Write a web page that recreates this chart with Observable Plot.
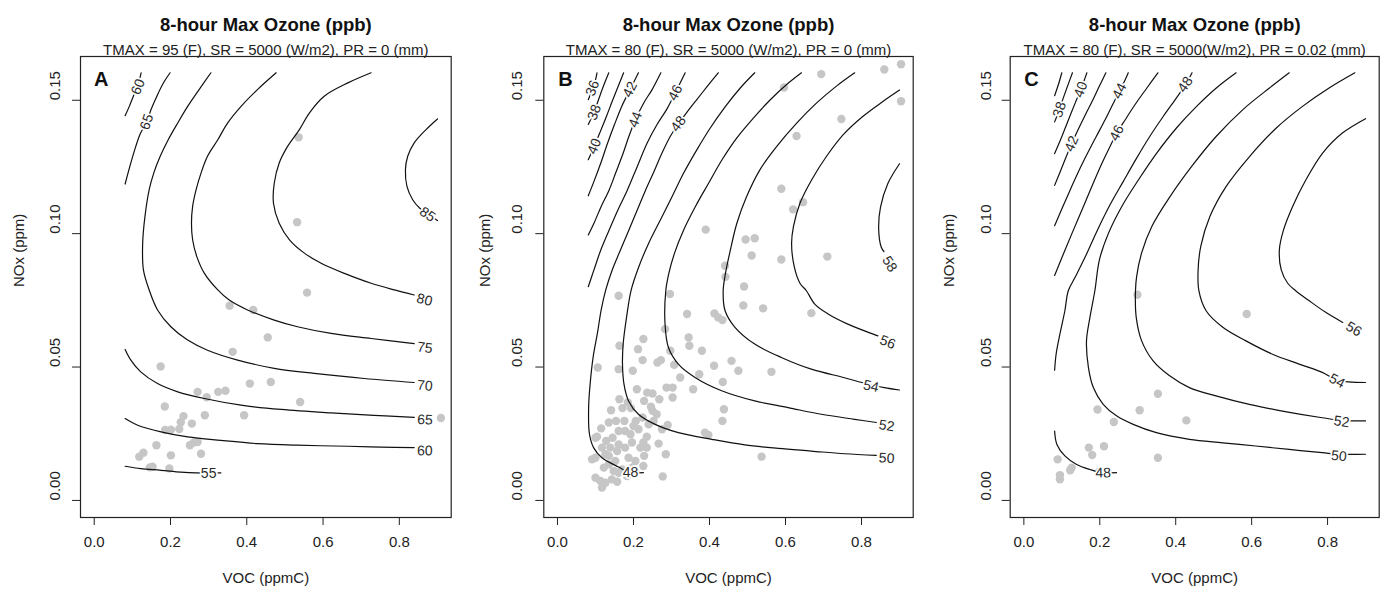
<!DOCTYPE html>
<html><head><meta charset="utf-8">
<script src="https://cdn.jsdelivr.net/npm/d3@7"></script>
<script src="https://cdn.jsdelivr.net/npm/@observablehq/plot@0.6"></script>
<style>
body{margin:0;background:#fff;}
#wrap{position:relative;width:1384px;height:589px;overflow:hidden;background:#fff;}
#wrap svg{position:absolute;top:0;}
</style></head><body><div id="wrap"></div>
<script>
// ---------- texts & ticks ----------
const mainTitle = "8-hour Max Ozone (ppb)";
const subtitles = [
  "TMAX = 95 (F), SR = 5000 (W/m2), PR = 0 (mm)",
  "TMAX = 80 (F), SR = 5000 (W/m2), PR = 0 (mm)",
  "TMAX = 80 (F), SR = 5000(W/m2), PR = 0.02 (mm)"
];
const panelLetters = ["A", "B", "C"];
const xLabel = "VOC (ppmC)";
const yLabel = "NOx (ppm)";
const xTicks = [0, 0.2, 0.4, 0.6, 0.8];
const yTicks = [0, 0.05, 0.10, 0.15];

// ---------- Panel A ----------
const contoursA = [
  {level: 60, pts: [[0.081,0.1442],[0.092,0.1477],[0.103,0.1517],[0.114,0.1555],[0.123,0.1603]]},
  {level: 65, pts: [[0.081,0.1186],[0.096,0.1265],[0.109,0.1327],[0.121,0.1375],[0.138,0.1419],[0.149,0.1465],[0.166,0.1521],[0.184,0.1571],[0.199,0.1603]]},
  {level: 70, pts: [[0.306,0.1603],[0.275,0.154],[0.245,0.1477],[0.219,0.1415],[0.194,0.1352],[0.173,0.129],[0.156,0.1227],[0.144,0.1164],[0.133,0.1064],[0.127,0.0964],[0.129,0.0864],[0.144,0.0789],[0.166,0.0714],[0.201,0.0651],[0.245,0.0601],[0.297,0.0563],[0.376,0.0526],[0.472,0.0495],[0.577,0.0476],[0.708,0.0457],[0.839,0.0442]]},
  {level: 75, pts: [[0.477,0.1603],[0.428,0.154],[0.385,0.1477],[0.35,0.1415],[0.324,0.1352],[0.297,0.129],[0.28,0.1227],[0.267,0.1164],[0.258,0.1102],[0.255,0.1039],[0.258,0.0977],[0.269,0.0914],[0.289,0.0851],[0.324,0.0789],[0.354,0.0751],[0.402,0.0714],[0.472,0.0676],[0.533,0.0651],[0.621,0.0626],[0.726,0.0607],[0.839,0.0588]]},
  {level: 80, pts: [[0.726,0.1603],[0.665,0.1565],[0.603,0.1515],[0.564,0.1452],[0.538,0.139],[0.507,0.1327],[0.485,0.1265],[0.472,0.1189],[0.47,0.1114],[0.485,0.1039],[0.512,0.0977],[0.551,0.0927],[0.595,0.0889],[0.656,0.0851],[0.726,0.0814],[0.787,0.0789],[0.839,0.077]]},
  {level: 85, pts: [[0.9,0.143],[0.87,0.139],[0.839,0.134],[0.822,0.129],[0.816,0.124],[0.82,0.1177],[0.835,0.1127],[0.853,0.1096],[0.9,0.1049]]},
  {level: 65, pts: [[0.081,0.0566],[0.096,0.0526],[0.122,0.0482],[0.166,0.0438],[0.219,0.0407],[0.289,0.0382],[0.385,0.0357],[0.49,0.0341],[0.621,0.0328],[0.734,0.0319],[0.839,0.0311]]},
  {level: 60, pts: [[0.081,0.0307],[0.114,0.0282],[0.175,0.0257],[0.245,0.0238],[0.332,0.0225],[0.428,0.0213],[0.533,0.0207],[0.665,0.0203],[0.752,0.02],[0.839,0.0198]]},
  {level: 55, pts: [[0.081,0.0128],[0.122,0.0119],[0.175,0.0113],[0.227,0.0106],[0.267,0.0103],[0.332,0.0103]]}
];
const labelsA = [
  {level: 60, x: 0.115, y: 0.1550}, {level: 65, x: 0.138, y: 0.1419},
  {level: 70, x: 0.867, y: 0.0430}, {level: 75, x: 0.867, y: 0.0572},
  {level: 80, x: 0.866, y: 0.0752}, {level: 85, x: 0.874, y: 0.1072},
  {level: 65, x: 0.867, y: 0.0302}, {level: 60, x: 0.867, y: 0.0186},
  {level: 55, x: 0.300, y: 0.0099}
];
const pointsA = [[0.536,0.1361],[0.532,0.1043],[0.558,0.0779],[0.355,0.073],[0.417,0.0714],[0.455,0.0611],[0.363,0.0557],[0.174,0.0502],[0.408,0.0438],[0.463,0.0444],[0.271,0.0407],[0.295,0.0387],[0.325,0.0407],[0.344,0.0411],[0.54,0.0369],[0.185,0.0352],[0.234,0.0316],[0.29,0.0319],[0.393,0.0319],[0.227,0.0293],[0.256,0.0288],[0.186,0.0264],[0.201,0.0265],[0.223,0.0268],[0.909,0.0309],[0.163,0.0207],[0.251,0.0207],[0.261,0.0217],[0.271,0.0219],[0.28,0.0175],[0.118,0.0164],[0.129,0.0179],[0.201,0.0169],[0.153,0.0126],[0.146,0.0124],[0.197,0.012],[0.302,0.010]];

// ---------- Panel B ----------
const contoursB = [
  {level: 36, pts: [[0.081,0.1502],[0.09,0.1534],[0.098,0.1565],[0.104,0.1603]]},
  {level: 38, pts: [[0.081,0.1409],[0.093,0.1446],[0.105,0.149],[0.119,0.1546],[0.135,0.1603]]},
  {level: 40, pts: [[0.081,0.1277],[0.096,0.1325],[0.112,0.138],[0.129,0.144],[0.144,0.1496],[0.159,0.155],[0.174,0.1603]]},
  {level: 42, pts: [[0.081,0.1142],[0.096,0.1196],[0.114,0.1265],[0.132,0.134],[0.15,0.1409],[0.169,0.1477],[0.191,0.154],[0.213,0.1603]]},
  {level: 44, pts: [[0.081,0.0995],[0.096,0.1039],[0.115,0.1102],[0.136,0.1164],[0.153,0.1227],[0.173,0.1302],[0.188,0.1365],[0.205,0.1427],[0.227,0.149],[0.249,0.154],[0.272,0.1603]]},
  {level: 46, pts: [[0.081,0.0801],[0.096,0.0864],[0.114,0.0939],[0.136,0.1014],[0.159,0.1089],[0.184,0.1164],[0.21,0.1252],[0.236,0.134],[0.262,0.1409],[0.287,0.1465],[0.31,0.1528],[0.336,0.1603]]},
  {level: 48, pts: [[0.423,0.1603],[0.393,0.155],[0.363,0.1496],[0.339,0.1452],[0.318,0.1412],[0.297,0.1365],[0.275,0.1302],[0.254,0.1233],[0.232,0.1164],[0.21,0.1089],[0.188,0.1014],[0.164,0.0933],[0.144,0.0864],[0.127,0.0789],[0.115,0.0714],[0.105,0.0626],[0.094,0.0539],[0.086,0.0438],[0.082,0.0351],[0.084,0.025],[0.095,0.0198],[0.117,0.016],[0.161,0.0125],[0.192,0.0104],[0.226,0.0104]]},
  {level: 50, pts: [[0.519,0.1603],[0.481,0.1546],[0.442,0.1477],[0.402,0.1396],[0.367,0.1315],[0.332,0.1227],[0.302,0.114],[0.271,0.1052],[0.24,0.0964],[0.214,0.0876],[0.194,0.0789],[0.182,0.0689],[0.173,0.0589],[0.171,0.0513],[0.175,0.0436],[0.187,0.0373],[0.213,0.0323],[0.257,0.0285],[0.318,0.0254],[0.406,0.0229],[0.493,0.0208],[0.581,0.0195],[0.668,0.0185],[0.755,0.0175],[0.839,0.0169]]},
  {level: 52, pts: [[0.642,0.1603],[0.603,0.1559],[0.56,0.1502],[0.516,0.1434],[0.472,0.1359],[0.433,0.1277],[0.398,0.119],[0.363,0.1102],[0.332,0.1014],[0.308,0.0927],[0.293,0.0851],[0.285,0.0786],[0.283,0.0661],[0.292,0.0573],[0.318,0.0511],[0.362,0.0461],[0.432,0.0411],[0.519,0.0373],[0.607,0.0348],[0.694,0.0323],[0.782,0.0304],[0.839,0.0292]]},
  {level: 54, pts: [[0.782,0.1603],[0.734,0.1553],[0.682,0.149],[0.63,0.1415],[0.577,0.1327],[0.533,0.124],[0.498,0.114],[0.472,0.1039],[0.455,0.0939],[0.442,0.0851],[0.436,0.0786],[0.441,0.0711],[0.467,0.0649],[0.519,0.0586],[0.589,0.0536],[0.668,0.0492],[0.755,0.046],[0.804,0.0441],[0.86,0.0423],[0.9,0.0414]]},
  {level: 56, pts: [[0.9,0.1538],[0.857,0.1496],[0.804,0.144],[0.752,0.1371],[0.708,0.129],[0.669,0.1202],[0.638,0.1114],[0.621,0.1027],[0.616,0.0964],[0.623,0.0876],[0.638,0.0814],[0.655,0.0786],[0.677,0.0736],[0.712,0.0699],[0.764,0.0661],[0.843,0.0617]]},
  {level: 58, pts: [[0.9,0.1262],[0.869,0.1187],[0.85,0.1099],[0.845,0.1024],[0.852,0.0949],[0.859,0.0933]]}
];
const labelsB = [
  {level: 36, x: 0.092, y: 0.1545}, {level: 38, x: 0.097, y: 0.1455},
  {level: 40, x: 0.097, y: 0.1327}, {level: 42, x: 0.191, y: 0.154},
  {level: 44, x: 0.205, y: 0.1427}, {level: 46, x: 0.31, y: 0.1528},
  {level: 48, x: 0.318, y: 0.1412}, {level: 48, x: 0.192, y: 0.0104},
  {level: 50, x: 0.866, y: 0.0158}, {level: 52, x: 0.866, y: 0.0280},
  {level: 54, x: 0.825, y: 0.0428}, {level: 56, x: 0.869, y: 0.0593},
  {level: 58, x: 0.874, y: 0.0886}
];
const pointsB = [[0.904,0.1635],[0.86,0.1615],[0.694,0.1598],[0.596,0.1548],[0.904,0.1496],[0.747,0.143],[0.629,0.1366],[0.589,0.1168],[0.62,0.1091],[0.646,0.1118],[0.39,0.1015],[0.495,0.0978],[0.519,0.0983],[0.511,0.0918],[0.589,0.0903],[0.71,0.0914],[0.441,0.088],[0.442,0.0838],[0.491,0.0802],[0.161,0.0767],[0.296,0.0774],
[0.341,0.0699],[0.413,0.0701],[0.423,0.0686],[0.434,0.0676],[0.489,0.0731],[0.541,0.072],[0.668,0.0702],
[0.283,0.0642],[0.226,0.0605],[0.163,0.058],[0.212,0.0567],[0.345,0.0611],[0.347,0.058],[0.297,0.0561],[0.38,0.0561],
[0.224,0.0526],[0.272,0.0526],[0.263,0.0517],[0.307,0.0508],[0.412,0.0505],[0.458,0.0523],[0.476,0.0486],[0.563,0.0482],
[0.106,0.0498],[0.161,0.0492],[0.198,0.0486],[0.323,0.0461],[0.373,0.0473],[0.435,0.0444],
[0.209,0.0417],[0.236,0.0404],[0.25,0.0401],[0.287,0.0423],[0.303,0.0423],[0.357,0.0417],[0.303,0.0386],
[0.163,0.0379],[0.185,0.0367],[0.228,0.0373],[0.268,0.0379],[0.246,0.0351],[0.141,0.0338],[0.171,0.0346],[0.193,0.0346],[0.25,0.0336],[0.438,0.0342],[0.434,0.0298],
[0.224,0.0311],[0.206,0.0298],[0.154,0.0298],[0.176,0.0298],[0.135,0.0292],[0.115,0.027],[0.104,0.0239],[0.128,0.0223],[0.145,0.0235],[0.161,0.026],[0.2,0.0279],[0.213,0.0267],[0.235,0.0239],[0.275,0.0267],[0.29,0.0283],[0.266,0.0213],[0.388,0.0254],[0.397,0.0245],[0.285,0.0173],[0.537,0.0164],
[0.091,0.0154],[0.1,0.016],[0.135,0.0167],[0.157,0.0185],[0.187,0.016],[0.205,0.0148],[0.228,0.0167],[0.135,0.0135],[0.148,0.011],[0.17,0.0116],[0.196,0.0123],[0.226,0.0129],[0.1,0.0085],[0.113,0.0073],[0.126,0.0066],[0.117,0.0048],[0.143,0.0079],[0.157,0.007],[0.183,0.0091],[0.277,0.009],
[0.1,0.0235],[0.117,0.0198],[0.139,0.0198],[0.161,0.021],[0.178,0.0198],[0.196,0.0217],[0.218,0.0198],[0.24,0.0285],[0.253,0.0298],[0.261,0.0323],[0.178,0.026],[0.192,0.0248],[0.152,0.0148],[0.122,0.0123],[0.161,0.0104],[0.205,0.0104],[0.126,0.0173],[0.235,0.0198],[0.226,0.0217]];

// ---------- Panel C ----------
const contoursC = [
  {level: 36, pts: [[0.081,0.1517],[0.091,0.1559],[0.1,0.1603]]},
  {level: 38, pts: [[0.081,0.1419],[0.092,0.1459],[0.103,0.1505],[0.115,0.1553],[0.128,0.1603]]},
  {level: 40, pts: [[0.081,0.13],[0.096,0.135],[0.11,0.14],[0.124,0.145],[0.137,0.1496],[0.15,0.154],[0.159,0.1575],[0.166,0.1603]]},
  {level: 42, pts: [[0.081,0.1181],[0.096,0.1233],[0.112,0.129],[0.126,0.1337],[0.143,0.139],[0.162,0.1446],[0.182,0.1502],[0.199,0.1553],[0.216,0.1603]]},
  {level: 44, pts: [[0.081,0.103],[0.101,0.1096],[0.122,0.1164],[0.144,0.1233],[0.168,0.1302],[0.191,0.1365],[0.214,0.1427],[0.236,0.149],[0.252,0.1535],[0.267,0.1577],[0.275,0.1603]]},
  {level: 46, pts: [[0.081,0.0843],[0.103,0.092],[0.127,0.1002],[0.153,0.1089],[0.179,0.1177],[0.206,0.1265],[0.227,0.1327],[0.245,0.1377],[0.267,0.1427],[0.293,0.1484],[0.324,0.1546],[0.353,0.1603]]},
  {level: 48, pts: [[0.443,0.1603],[0.428,0.1563],[0.402,0.1509],[0.367,0.1439],[0.332,0.1365],[0.297,0.1283],[0.262,0.1196],[0.227,0.1108],[0.194,0.1014],[0.162,0.0914],[0.136,0.0839],[0.117,0.0786],[0.108,0.0711],[0.095,0.0624],[0.085,0.0549],[0.081,0.0488]]},
  {level: 48, pts: [[0.081,0.026],[0.087,0.021],[0.108,0.0167],[0.139,0.0135],[0.174,0.0116],[0.209,0.0103],[0.244,0.0104]]},
  {level: 50, pts: [[0.559,0.1603],[0.507,0.1546],[0.455,0.1477],[0.402,0.1396],[0.35,0.1302],[0.302,0.1202],[0.258,0.1102],[0.223,0.1002],[0.199,0.0902],[0.187,0.0786],[0.174,0.0686],[0.165,0.0599],[0.17,0.0499],[0.183,0.0423],[0.209,0.036],[0.244,0.0317],[0.288,0.0285],[0.349,0.0254],[0.436,0.0229],[0.524,0.0216],[0.611,0.0204],[0.699,0.0191],[0.786,0.0179],[0.83,0.0173],[0.9,0.0173]]},
  {level: 52, pts: [[0.699,0.1603],[0.647,0.1546],[0.577,0.1465],[0.507,0.1365],[0.442,0.1252],[0.385,0.1139],[0.337,0.1027],[0.31,0.0927],[0.297,0.0839],[0.294,0.0786],[0.296,0.0686],[0.31,0.0599],[0.34,0.0524],[0.384,0.0467],[0.436,0.0423],[0.506,0.0392],[0.594,0.036],[0.681,0.0335],[0.786,0.031],[0.837,0.03],[0.9,0.0298]]},
  {level: 54, pts: [[0.872,0.1603],[0.804,0.1546],[0.734,0.1477],[0.665,0.1396],[0.595,0.129],[0.533,0.1177],[0.49,0.1064],[0.466,0.0952],[0.459,0.0864],[0.461,0.0786],[0.48,0.0711],[0.524,0.0649],[0.585,0.0598],[0.655,0.0548],[0.725,0.0511],[0.786,0.048],[0.825,0.0451],[0.9,0.0442]]},
  {level: 56, pts: [[0.9,0.1431],[0.839,0.1377],[0.787,0.1302],[0.743,0.1202],[0.708,0.1102],[0.684,0.1014],[0.673,0.0939],[0.678,0.0864],[0.695,0.0814],[0.716,0.0786],[0.751,0.0749],[0.795,0.0705],[0.84,0.0667]]}
];
const labelsC = [
  {level: 38, x: 0.094, y: 0.1465}, {level: 40, x: 0.15, y: 0.154},
  {level: 42, x: 0.126, y: 0.1337}, {level: 44, x: 0.252, y: 0.1535},
  {level: 46, x: 0.245, y: 0.1377}, {level: 48, x: 0.425, y: 0.1559},
  {level: 48, x: 0.209, y: 0.0103}, {level: 50, x: 0.83, y: 0.0166},
  {level: 52, x: 0.837, y: 0.0295}, {level: 54, x: 0.825, y: 0.0448},
  {level: 56, x: 0.869, y: 0.0642}
];
const pointsC = [[0.299,0.0771],[0.587,0.0699],[0.353,0.04],[0.194,0.0341],[0.305,0.0338],[0.237,0.0294],[0.428,0.03],[0.171,0.0198],[0.211,0.0203],[0.18,0.017],[0.353,0.016],[0.089,0.0154],[0.126,0.0123],[0.122,0.0113],[0.095,0.0095],[0.095,0.0079],[0.2,0.011]];

// ---------- layout ----------
const panels = [
  {left: 0,   width: 461, mL: 80,   mR: 10.3, tickDx: -25.8, titleDx: -61, letterDx: 13.5, contours: contoursA, labels: labelsA, points: pointsA},
  {left: 461, width: 461, mL: 82.3, mR: 9.3,  tickDx: -26.6, titleDx: -59, letterDx: 14.4, contours: contoursB, labels: labelsB, points: pointsB},
  {left: 922, width: 462, mL: 87.7, mR: 5.3,  tickDx: -24.4, titleDx: -61, letterDx: 14,   contours: contoursC, labels: labelsC, points: pointsC}
];
const H = 589, mT = 56, mB = 72;
const xDom = [-0.036, 0.936], yDom = [-0.0064, 0.1664];
const FONT = "'Liberation Sans', Arial, Helvetica, sans-serif";

panels.forEach((p, i) => {
  const kx = (p.width - p.mL - p.mR) / (xDom[1] - xDom[0]);
  const ky = (H - mT - mB) / (yDom[1] - yDom[0]);
  const lineData = p.contours.flatMap((c, j) => c.pts.map(([x, y]) => ({x, y, id: j})));
  const labs = p.labels.map(l => {
    let best = null, bd = Infinity;
    for (const c of p.contours) {
      if (c.level !== l.level) continue;
      for (let k = 0; k < c.pts.length - 1; k++) {
        const [x1, y1] = c.pts[k], [x2, y2] = c.pts[k + 1];
        const d = Math.hypot(((x1 + x2) / 2 - l.x) * kx, ((y1 + y2) / 2 - l.y) * ky);
        if (d < bd) { bd = d; best = [x1, y1, x2, y2]; }
      }
    }
    let a = Math.atan2(-(best[3] - best[1]) * ky, (best[2] - best[0]) * kx) * 180 / Math.PI;
    if (a > 90) a -= 180; if (a < -90) a += 180;
    return {...l, angle: a};
  });
  const chart = Plot.plot({
    width: p.width, height: H,
    marginLeft: p.mL, marginRight: p.mR, marginTop: mT, marginBottom: mB,
    x: {domain: xDom}, y: {domain: yDom},
    style: {fontFamily: FONT, background: "transparent", overflow: "visible", color: "#222"},
    marks: [
      Plot.dot(p.points, {x: d => d[0], y: d => d[1], r: 4.2, fill: "#c6c6c6", stroke: "none"}),
      Plot.line(lineData, {x: "x", y: "y", z: "id", stroke: "#111", strokeWidth: 1.2, curve: "catmull-rom"}),
      Plot.text(labs, {x: "x", y: "y", text: d => String(d.level), rotate: "angle", fontSize: 14, fill: "#2a2a2a", stroke: "white", strokeWidth: 3.5}),
      Plot.frame({stroke: "#222", strokeWidth: 1.2}),
      Plot.axisX({ticks: xTicks, tickSize: 8, tickFormat: () => "", label: null, stroke: "#222"}),
      Plot.axisY({ticks: yTicks, tickSize: 8, tickFormat: () => "", label: null, stroke: "#222"}),
      Plot.text(xTicks, {x: d => d, text: d => d.toFixed(1), frameAnchor: "bottom", dy: 29.5, fontSize: 15, fill: "#222"}),
      Plot.text(yTicks, {y: d => d, text: d => d.toFixed(2), frameAnchor: "left", dx: p.tickDx, rotate: -90, fontSize: 15, fill: "#222"}),
      Plot.text([xLabel], {text: d => d, frameAnchor: "bottom", dy: 65, fontSize: 15, fill: "#222"}),
      Plot.text([yLabel], {text: d => d, frameAnchor: "left", dx: p.titleDx, rotate: -90, fontSize: 15, fill: "#222"}),
      Plot.text([mainTitle], {text: d => d, frameAnchor: "top", dy: -26, lineAnchor: "bottom", fontSize: 18.5, fontWeight: "bold", fill: "#111"}),
      Plot.text([subtitles[i]], {text: d => d, frameAnchor: "top", dy: -1.5, lineAnchor: "bottom", fontSize: 15, fill: "#222"}),
      Plot.text([panelLetters[i]], {text: d => d, frameAnchor: "top-left", dx: p.letterDx, dy: 29, lineAnchor: "bottom", textAnchor: "start", fontSize: 20, fontWeight: "bold", fill: "#111"})
    ]
  });
  chart.style.left = p.left + "px";
  document.getElementById("wrap").appendChild(chart);
});
</script>
</body></html>
